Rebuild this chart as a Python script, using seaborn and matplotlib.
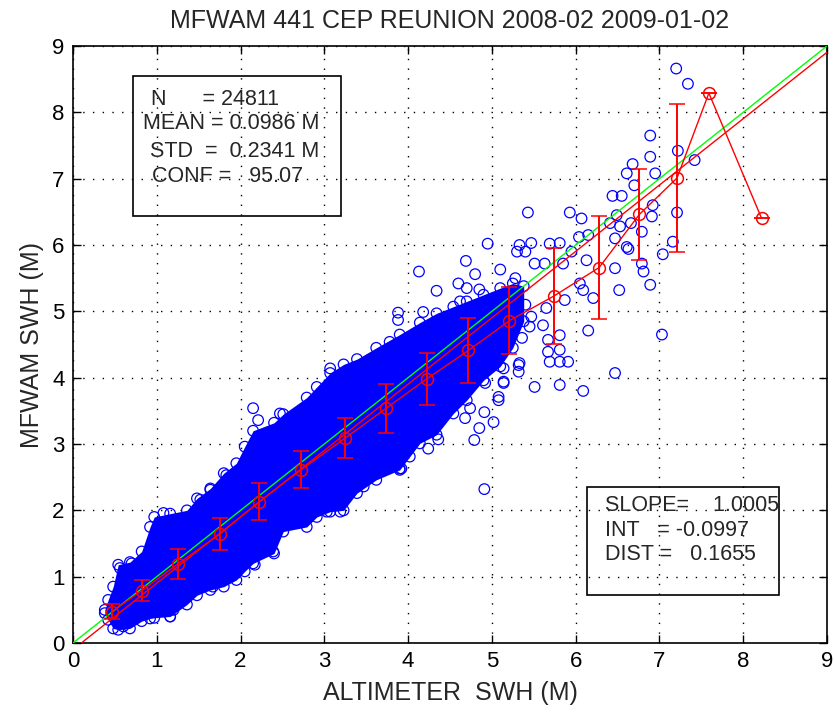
import numpy as np
import pandas as pd
import matplotlib
matplotlib.use("Agg")
import matplotlib.pyplot as plt
import seaborn as sns
from matplotlib.patches import Rectangle

# dense part of the cloud: x and lower / upper edge of the solid blue band
core_x = [0.38, 0.42, 0.48, 0.54, 0.68, 0.82, 0.92, 0.97, 1.16, 1.36,
          1.48, 1.64, 1.80, 1.95, 2.05, 2.15, 2.40, 2.51, 2.79, 2.91,
          3.07, 3.23, 3.39, 3.62, 3.90, 4.14, 4.34, 4.54, 4.70, 4.90,
          5.10, 5.25, 5.38]
core_lo = [0.45, 0.35, 0.22, 0.20, 0.22, 0.33, 0.37, 0.38, 0.40, 0.58,
           0.72, 0.80, 0.85, 0.95, 1.08, 1.20, 1.35, 1.68, 1.75, 1.90,
           1.98, 2.00, 2.26, 2.46, 2.61, 3.01, 3.14, 3.46, 3.66, 3.96,
           4.17, 4.45, 4.85]
core_hi = [0.50, 0.65, 0.85, 1.18, 1.22, 1.38, 1.75, 1.90, 1.95, 2.00,
           2.18, 2.33, 2.56, 2.71, 2.96, 3.20, 3.32, 3.45, 3.70, 3.86,
           4.07, 4.20, 4.28, 4.45, 4.65, 4.83, 4.97, 5.07, 5.15, 5.25,
           5.35, 5.42, 5.38]

# single circles along the edge of the band and in the sparse upper part
edge_pts = [(2.15, 3.54), (2.21, 3.36), (2.47, 3.46), (1.83, 2.53), (1.08, 1.96),
            (1.52, 2.16), (1.64, 2.31), (0.70, 1.20), (0.56, 1.13), (1.20, 0.50),
            (1.16, 0.40), (0.60, 0.25), (2.39, 1.38), (2.17, 1.18), (3.03, 1.98),
            (3.19, 1.98), (3.90, 2.63), (3.47, 2.36), (1.67, 0.85)]
sparse_pts = [(7.20, 8.66), (7.34, 8.43), (6.89, 7.65), (6.89, 7.33), (7.22, 7.42),
              (7.42, 7.28), (6.68, 7.22), (6.61, 7.08), (6.95, 7.08), (6.70, 6.90),
              (6.44, 6.74), (6.55, 6.74), (6.92, 6.60), (6.91, 6.43), (7.21, 6.49),
              (5.43, 6.49), (5.93, 6.49), (6.07, 6.40), (6.49, 6.45), (6.41, 6.33),
              (6.53, 6.28), (6.66, 6.33), (6.79, 6.20), (6.04, 6.12), (6.15, 6.15),
              (6.47, 6.10), (6.61, 5.97), (4.95, 6.02), (5.33, 6.00), (5.47, 6.03),
              (5.69, 6.02), (5.81, 6.03), (5.30, 5.90), (5.40, 5.90), (5.95, 5.90),
              (6.63, 5.94), (7.16, 6.05), (7.04, 5.86), (6.13, 5.77), (5.51, 5.72),
              (5.63, 5.72), (5.85, 5.72), (6.79, 5.72), (6.81, 5.60), (6.47, 5.65),
              (6.89, 5.40), (5.10, 5.63), (6.05, 5.42), (6.09, 5.32), (6.52, 5.32),
              (6.21, 5.20), (5.87, 5.17), (5.65, 5.05), (5.47, 4.92), (5.61, 4.79),
              (5.45, 4.77), (6.15, 4.71), (7.03, 4.65), (5.81, 4.64), (5.67, 4.57),
              (5.67, 4.39), (5.81, 4.42), (5.33, 4.22), (5.69, 4.24), (5.81, 4.24),
              (5.91, 4.24), (6.47, 4.07), (5.81, 3.89), (5.51, 3.86), (6.09, 3.80),
              (5.14, 3.94), (5.08, 3.71), (4.69, 5.76), (4.13, 5.60), (4.80, 5.56),
              (4.34, 5.31), (4.60, 5.42), (4.70, 5.35), (4.85, 5.33), (4.62, 5.15),
              (4.18, 4.99), (3.88, 4.98), (3.88, 4.87), (3.78, 4.54), (3.07, 4.14),
              (3.50, 4.22), (4.36, 3.07), (4.24, 2.93), (3.92, 2.63), (4.02, 2.81),
              (4.79, 3.06), (4.85, 3.24), (5.02, 3.33), (4.91, 3.48), (4.68, 3.39),
              (4.74, 3.54), (5.08, 3.66), (5.14, 3.92), (4.92, 3.92), (5.14, 4.14),
              (5.32, 4.19), (5.32, 4.09), (4.91, 2.32), (5.36, 4.60), (5.40, 5.10),
              (5.28, 5.50)]

# binned mean of model SWH and its std (red error bars)
bin_x = [0.46, 0.82, 1.25, 1.75, 2.22, 2.72, 3.25, 3.74, 4.22, 4.72,
         5.21, 5.74, 6.28, 6.76, 7.21, 7.59, 8.22]
bin_mean = [0.47, 0.79, 1.19, 1.64, 2.13, 2.61, 3.09, 3.54, 3.98, 4.41,
            4.86, 5.23, 5.66, 6.46, 7.01, 8.29, 6.40]
bin_std = [0.115, 0.155, 0.225, 0.245, 0.275, 0.28, 0.30, 0.37, 0.39, 0.495,
           0.50, 0.725, 0.775, 0.685, 1.12, 0.0, 0.0]

fit_slope = 1.0005
fit_int = -0.0997

ticks = list(range(0, 10))
title = "MFWAM 441 CEP REUNION 2008-02 2009-01-02"
stats_left = ["N      = 24811", "MEAN = 0.0986 M", "STD  =  0.2341 M", "CONF =   95.07"]
stats_right = ["SLOPE=    1.0005", "INT   = -0.0997", "DIST =   0.1655"]

sns.set_style("ticks")
plt.rcParams["font.family"] = ["Liberation Sans", "DejaVu Sans"]

fig = plt.figure(figsize=(8.34, 7.12), dpi=100)
ax = fig.add_axes([0.0875, 0.0969, 0.9041, 0.8385])

blue = "#0000ff"
ax.fill_between(core_x, core_lo, core_hi, color=blue, lw=0, zorder=2)

edge = pd.DataFrame({"x": core_x + core_x + [p[0] for p in edge_pts],
                     "y": core_lo + core_hi + [p[1] for p in edge_pts]})
sparse = pd.DataFrame(sparse_pts, columns=["x", "y"])
for d in (edge, sparse):
    sns.scatterplot(data=d, x="x", y="y", ax=ax, marker="o", s=58,
                    facecolors="none", edgecolor=blue, linewidth=0.9, zorder=2)

# 1:1 line and regression line
ax.axline((0, 0), slope=1, color="#00ff00", lw=1, zorder=3)
ax.axline((0, fit_int), slope=fit_slope, color="#ff0000", lw=1, zorder=3)

ax.errorbar(bin_x, bin_mean, yerr=bin_std, color="#ff0000", marker="o",
            mfc="none", mec="#ff0000", ms=8.5, mew=1.1, lw=1, elinewidth=1.4,
            capsize=5.5, capthick=1.4, zorder=4)

# stat boxes (outline only, grid shows through)
ax.add_patch(Rectangle((0.716, 6.44), 2.48, 2.11, fill=False, ec="k", lw=1.2, zorder=5))
ax.add_patch(Rectangle((6.135, 0.72), 2.295, 1.63, fill=False, ec="k", lw=1.2, zorder=5))
for txt, x, y in zip(stats_left, [0.927, 0.836, 0.919, 0.939], [8.19, 7.835, 7.41, 7.03]):
    ax.text(x, y, txt, fontsize=15.5, va="center", ha="left", zorder=6)
for txt, y in zip(stats_right, [2.08, 1.70, 1.34]):
    ax.text(6.35, y, txt, fontsize=15.5, va="center", ha="left", zorder=6)

ax.set_xlim(0, 9)
ax.set_ylim(0, 9)
ax.set_xticks(ticks)
ax.set_yticks(ticks)
ax.tick_params(direction="in", top=True, right=True, length=6, width=1,
               labelsize=16, colors="k", pad=6)
ax.set_axisbelow(True)
ax.grid(True, color="k", linestyle=(0, (1, 6)), lw=1)
for sp in ax.spines.values():
    sp.set_linewidth(1.2)
    sp.set_color("k")

ax.set_title(title, fontsize=18, pad=13)
ax.set_xlabel("ALTIMETER  SWH (M)", fontsize=18, labelpad=6)
ax.set_ylabel("MFWAM SWH (M)", fontsize=18, labelpad=6)

fig.savefig("out.png", dpi=100, facecolor="white")
